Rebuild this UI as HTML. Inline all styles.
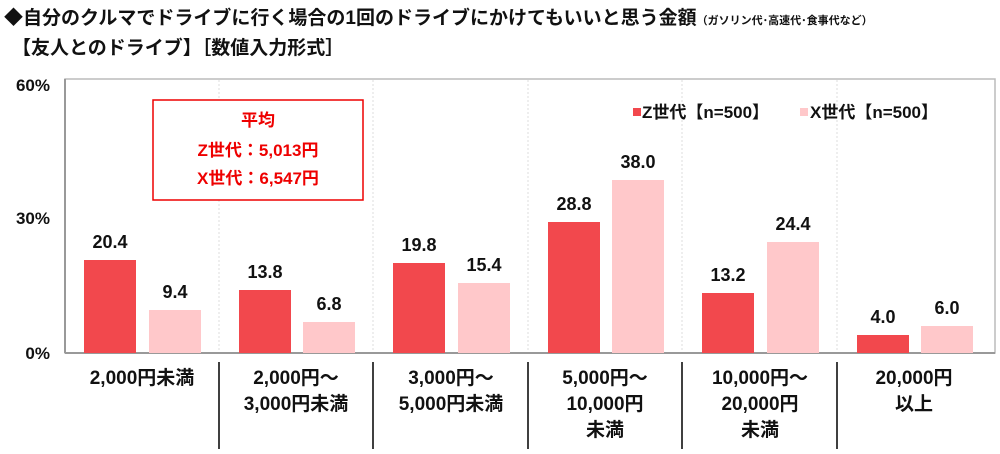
<!DOCTYPE html>
<html><head><meta charset="utf-8"><style>
body{margin:0;background:#fff;}
svg text{font-family:"Liberation Sans","Noto Sans CJK JP",sans-serif;font-weight:bold;fill:#111;}
</style></head><body>
<svg width="1000" height="449" viewBox="0 0 1000 449" xmlns="http://www.w3.org/2000/svg">
<text x="4" y="24" font-size="19">◆自分のクルマでドライブに行く場合の1回のドライブにかけてもいいと思う金額<tspan font-size="11">（ガソリン代･高速代･食事代など）</tspan></text>
<text x="12" y="54" font-size="19">【友人とのドライブ】［数値入力形式］</text>
<rect x="65" y="79" width="930" height="274" fill="none" stroke="#bbb" stroke-width="1.5"/>
<g stroke="#ddd" stroke-dasharray="2,2">
<line x1="219" y1="80" x2="219" y2="352"/><line x1="373" y1="80" x2="373" y2="352"/><line x1="528" y1="80" x2="528" y2="352"/><line x1="682" y1="80" x2="682" y2="352"/><line x1="837" y1="80" x2="837" y2="352"/>
</g>
<line x1="65" y1="353" x2="995" y2="353" stroke="#999" stroke-width="2"/>
<line x1="65" y1="79" x2="65" y2="353" stroke="#999" stroke-width="2"/>
<g stroke="#000" stroke-width="1.5">
<line x1="219" y1="362" x2="219" y2="449"/><line x1="373" y1="362" x2="373" y2="449"/><line x1="528" y1="362" x2="528" y2="449"/><line x1="682" y1="362" x2="682" y2="449"/><line x1="837" y1="362" x2="837" y2="449"/>
</g>
<g font-size="17" text-anchor="end">
<text x="50" y="91">60%</text><text x="50" y="224">30%</text><text x="50" y="359">0%</text>
</g>
<g fill="#f2484d">
<rect x="84" y="260" width="52" height="93"/>
<rect x="239" y="290" width="52" height="63"/>
<rect x="393" y="263" width="52" height="90"/>
<rect x="548" y="222" width="52" height="131"/>
<rect x="702" y="293" width="52" height="60"/>
<rect x="857" y="335" width="52" height="18"/>
</g>
<g fill="#ffc8ca">
<rect x="149" y="310" width="52" height="43"/>
<rect x="303" y="322" width="52" height="31"/>
<rect x="458" y="283" width="52" height="70"/>
<rect x="612" y="180" width="52" height="173"/>
<rect x="767" y="242" width="52" height="111"/>
<rect x="921" y="326" width="52" height="27"/>
</g>
<g font-size="18" text-anchor="middle">
<text x="110" y="248">20.4</text><text x="175" y="298">9.4</text>
<text x="265" y="278">13.8</text><text x="329" y="310">6.8</text>
<text x="419" y="251">19.8</text><text x="484" y="271">15.4</text>
<text x="574" y="210">28.8</text><text x="638" y="168">38.0</text>
<text x="728" y="281">13.2</text><text x="793" y="230">24.4</text>
<text x="883" y="323">4.0</text><text x="947" y="314">6.0</text>
</g>
<g font-size="19" text-anchor="middle">
<text x="142" y="384">2,000円未満</text>
<text x="296" y="384">2,000円～</text><text x="296" y="410">3,000円未満</text>
<text x="451" y="384">3,000円～</text><text x="451" y="410">5,000円未満</text>
<text x="605" y="384">5,000円～</text><text x="605" y="410">10,000円</text><text x="605" y="436">未満</text>
<text x="760" y="384">10,000円～</text><text x="760" y="410">20,000円</text><text x="760" y="436">未満</text>
<text x="914" y="384">20,000円</text><text x="914" y="410">以上</text>
</g>
<rect x="153" y="100" width="210" height="100" fill="#fff" stroke="#e00" stroke-width="1.5"/>
<g font-size="17" text-anchor="middle">
<text x="258" y="126" style="fill:#e00">平均</text>
<text x="258" y="156" style="fill:#e00">Z世代：5,013円</text>
<text x="258" y="184" style="fill:#e00">X世代：6,547円</text>
</g>
<rect x="633" y="108" width="8" height="8" fill="#f2484d"/>
<text x="642" y="118" font-size="17">Z世代【n=500】</text>
<rect x="800" y="108" width="8" height="8" fill="#ffc8ca"/>
<text x="810" y="118" font-size="17">X世代【n=500】</text>
</svg>
</body></html>
